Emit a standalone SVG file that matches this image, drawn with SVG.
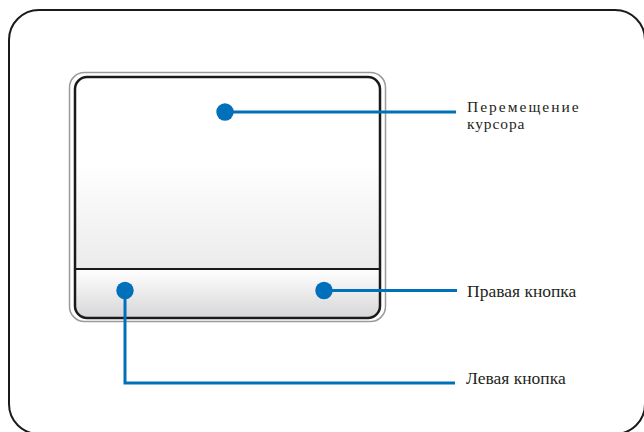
<svg xmlns="http://www.w3.org/2000/svg" width="644" height="432" viewBox="0 0 644 432">
<defs>
<linearGradient id="padGrad" x1="0" y1="0" x2="0" y2="1">
<stop offset="0" stop-color="#ffffff"/>
<stop offset="0.45" stop-color="#ffffff"/>
<stop offset="1" stop-color="#ebebeb"/>
</linearGradient>
<linearGradient id="btnGrad" x1="0" y1="0" x2="0" y2="1">
<stop offset="0" stop-color="#ffffff"/>
<stop offset="1" stop-color="#d6d6d8"/>
</linearGradient>
<clipPath id="padClip"><rect x="75" y="77" width="305" height="241" rx="12"/></clipPath>
</defs>
<style>
.lbl{font-family:"Liberation Serif","Times New Roman",serif;font-size:17.5px;fill:#231f20}
.lbl2{font-family:"Liberation Serif","Times New Roman",serif;font-size:15.5px;fill:#231f20}
.lead{fill:none;stroke:#0070bb;stroke-width:3}
.dot{fill:#0070bb}
</style>
<rect x="9" y="10" width="636" height="424" rx="30" fill="#ffffff" stroke="#1a1a1a" stroke-width="2"/>
<g id="touchpad">
<rect x="69.5" y="72.5" width="316" height="249" rx="15" fill="#ffffff" stroke="#9a9a9a" stroke-width="1.5"/>
<g clip-path="url(#padClip)">
<rect x="75" y="77" width="305" height="192" fill="url(#padGrad)"/>
<rect x="75" y="269" width="305" height="49" fill="url(#btnGrad)"/>
</g>
<rect x="75" y="77" width="305" height="241" rx="12" fill="none" stroke="#1a1a1a" stroke-width="2.5"/>
<line x1="75" y1="269" x2="380" y2="269" stroke="#1a1a1a" stroke-width="2"/>
</g>
<g id="connectors">
<polyline class="lead" points="225,112 456,112"/>
<polyline class="lead" points="324,290.5 457,290.5"/>
<polyline class="lead" points="125,290.5 125,383 455,383"/>
</g>
<g id="cursor">
<circle class="dot" cx="225" cy="112" r="8.7"/>
<text class="lbl2"><tspan x="467" y="112" letter-spacing="2">Перемещение</tspan><tspan x="467" y="128.5" letter-spacing="0.9">курсора</tspan></text>
</g>
<g id="right-button">
<circle class="dot" cx="324" cy="290.5" r="8.7"/>
<text class="lbl" x="467" y="297">Правая кнопка</text>
</g>
<g id="left-button">
<circle class="dot" cx="125" cy="290.5" r="8.7"/>
<text class="lbl" x="466" y="383.5">Левая кнопка</text>
</g>
</svg>
